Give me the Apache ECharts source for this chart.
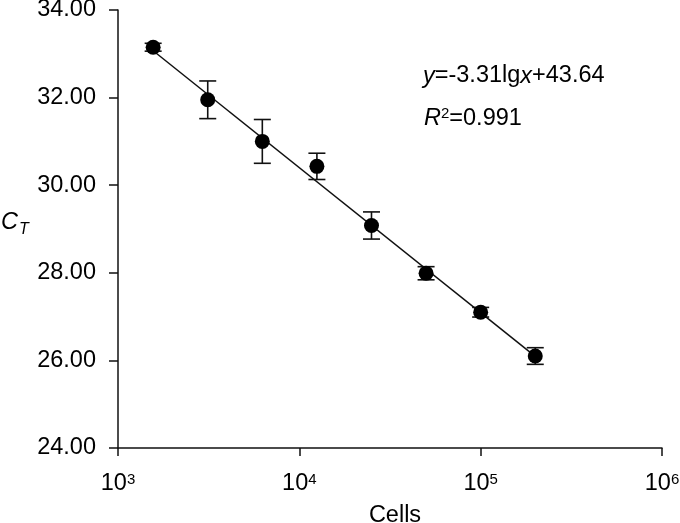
<!DOCTYPE html>
<html><head><meta charset="utf-8">
<script src="https://cdn.jsdelivr.net/npm/echarts@6/dist/echarts.min.js"></script>
<style>html,body{margin:0;padding:0;background:#fff}#c{width:680px;height:523px}</style>
</head><body><div id="c"></div>
<script>
const cells = [1562.5, 3125, 6250, 12500, 25000, 50000, 100000, 200000];
const ct = [33.15, 31.95, 31.00, 30.43, 29.08, 27.99, 27.10, 26.10];
const ctErr = [0.09, 0.43, 0.50, 0.30, 0.31, 0.15, 0.11, 0.19];
const fitX = [1562.5, 200000];
const fitY = [33.07, 26.09];
const yTicks = [24, 26, 28, 30, 32, 34];
const eqText = ['y=-3.31lgx+43.64', 'R2=0.991'];

const FF = "'Liberation Sans', Arial, sans-serif";
const FS = 23.5;
const TC = '#000';
const chart = echarts.init(document.getElementById('c'));
const pts = cells.map((x, i) => [x, ct[i]]);
const errData = cells.map((x, i) => [x, ct[i] - ctErr[i], ct[i] + ctErr[i]]);
const fitData = fitX.map((x, i) => [x, fitY[i]]);

chart.setOption({
  animation: false,
  backgroundColor: '#fff',
  grid: {left: 118, right: 18, top: 10, bottom: 75, containLabel: false, outerBoundsMode: 'none'},
  xAxis: {
    type: 'log', logBase: 10, min: 1000, max: 1000000,
    name: 'Cells', nameLocation: 'middle', nameGap: 56,
    nameTextStyle: {fontFamily: FF, fontSize: FS, color: TC, padding: [0, 0, 0, 10]},
    axisLine: {lineStyle: {color: '#111', width: 1.5}},
    axisTick: {show: true, length: 8, lineStyle: {color: '#111', width: 1.5}},
    minorTick: {show: false},
    splitLine: {show: false},
    axisLabel: {
      margin: 24,
      formatter: v => '{b|10}{s|' + Math.round(Math.log10(v)) + '}',
      rich: {
        b: {fontFamily: FF, fontSize: FS, color: TC},
        s: {fontFamily: FF, fontSize: 15, color: TC, verticalAlign: 'top', padding: [0, 0, 8, 0]}
      }
    }
  },
  yAxis: {
    type: 'value', min: 24, max: 34, interval: 2,
    axisLine: {show: true, lineStyle: {color: '#111', width: 1.5}},
    axisTick: {show: true, length: 9, lineStyle: {color: '#111', width: 1.5}},
    splitLine: {show: false},
    axisLabel: {
      margin: 22,
      fontFamily: FF, fontSize: FS, color: TC,
      formatter: v => v.toFixed(2)
    }
  },
  graphic: [
    {type: 'text', left: 1, top: 211, style: {
      text: '{c|C}{t|T}',
      rich: {
        c: {fontFamily: FF, fontSize: FS, fontStyle: 'italic', fill: TC},
        t: {fontFamily: FF, fontSize: 16, fontStyle: 'italic', fill: TC, padding: [14, 0, 0, 1]}
      }
    }},
    {type: 'text', left: 423, top: 64, style: {
      text: '{i|y}{n|=-3.31lg}{i|x}{n|+43.64}',
      rich: {
        i: {fontFamily: FF, fontSize: FS, fontStyle: 'italic', fill: TC},
        n: {fontFamily: FF, fontSize: FS, fill: TC}
      }
    }},
    {type: 'text', left: 424, top: 106, style: {
      text: '{i|R}{s|2}{n|=0.991}',
      rich: {
        i: {fontFamily: FF, fontSize: FS, fontStyle: 'italic', fill: TC},
        s: {fontFamily: FF, fontSize: 15, fill: TC, padding: [0, 0, 10, 0]},
        n: {fontFamily: FF, fontSize: FS, fill: TC}
      }
    }}
  ],
  series: [
    {
      type: 'line', data: fitData, symbol: 'none', z: 2,
      lineStyle: {color: '#111', width: 1.5}
    },
    {
      type: 'custom', data: errData, z: 3,
      renderItem: (params, api) => {
        const x = api.value(0);
        const lo = api.coord([x, api.value(1)]);
        const hi = api.coord([x, api.value(2)]);
        const w = 8.5;
        const st = {stroke: '#111', lineWidth: 1.6};
        return {type: 'group', children: [
          {type: 'line', shape: {x1: lo[0], y1: lo[1], x2: hi[0], y2: hi[1]}, style: st},
          {type: 'line', shape: {x1: lo[0] - w, y1: lo[1], x2: lo[0] + w, y2: lo[1]}, style: st},
          {type: 'line', shape: {x1: hi[0] - w, y1: hi[1], x2: hi[0] + w, y2: hi[1]}, style: st}
        ]};
      }
    },
    {
      type: 'scatter', data: pts, symbol: 'circle', symbolSize: 15, z: 4,
      itemStyle: {color: '#000', opacity: 1}
    }
  ]
});
</script></body></html>
